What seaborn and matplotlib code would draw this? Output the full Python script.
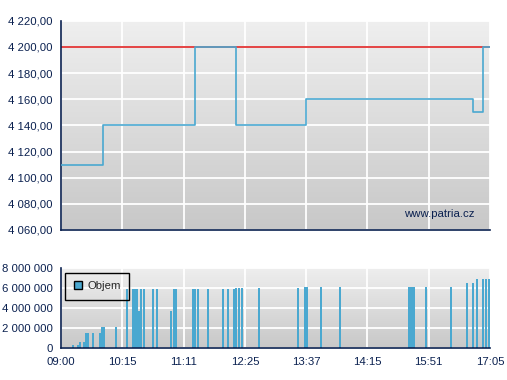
import numpy as np
import pandas as pd
import matplotlib
matplotlib.use("Agg")
import matplotlib.pyplot as plt
from matplotlib.ticker import FuncFormatter, FixedLocator
from matplotlib.patches import Patch
from matplotlib.colors import LinearSegmentedColormap
import seaborn as sns

# ---- data ----
tick_labels = ["09:00", "10:15", "11:11", "12:25", "13:37", "14:15", "15:51", "17:05"]
price_x = [0, 0.69, 2.18, 2.85, 3.99, 6.72, 6.88, 7.0]
price_y = [4110, 4140, 4200, 4140, 4160, 4150, 4200, 4200]
ref_x = [0, 7.0]
ref_y = [4200, 4200]
vol_x = [0.196, 0.278, 0.31, 0.376, 0.408, 0.433, 0.523, 0.637, 0.67, 0.703, 0.899,
         1.078, 1.176, 1.2, 1.242, 1.266, 1.307, 1.356, 1.503, 1.569, 1.797, 1.846, 1.879,
         2.157, 2.181, 2.239, 2.402, 2.647, 2.729, 2.827, 2.859, 2.908, 2.958, 3.235,
         3.873, 3.987, 4.011, 4.248, 4.559, 5.686, 5.719, 5.752, 5.948, 6.356,
         6.618, 6.716, 6.781, 6.879, 6.928, 6.99]
vol_y = [0.33, 0.33, 0.65, 0.65, 1.5, 1.5, 1.5, 1.5, 2.1, 2.1, 2.1,
         5.9, 5.9, 5.9, 5.9, 3.7, 5.9, 5.9, 5.9, 5.9, 3.7, 5.9, 5.9,
         5.9, 5.9, 5.9, 5.9, 5.9, 5.9, 5.9, 6.0, 6.0, 6.0, 6.0,
         6.0, 6.1, 6.1, 6.1, 6.1, 6.1, 6.1, 6.1, 6.1, 6.1,
         6.5, 6.5, 6.9, 6.9, 6.9, 6.9]
vol_y = [v * 1e6 for v in vol_y]

sns.set_style("whitegrid")
plt.rcParams['font.family'] = ['Liberation Sans', 'DejaVu Sans']

NAVY = "#0b2150"
BLUE = "#4aa8d0"
RED = "#e02424"

fig = plt.figure(figsize=(5.07, 3.80), dpi=100)
W, H = 507, 380
def axrect(l, t, r, b):
    return [l / W, 1 - b / H, (r - l) / W, (b - t) / H]

ax1 = fig.add_axes(axrect(61, 20.7, 490, 230))
ax2 = fig.add_axes(axrect(61, 268, 490, 348.3))

grad = np.linspace(0, 1, 256).reshape(-1, 1)
cmap = LinearSegmentedColormap.from_list("g", ["#efefef", "#c8c8c8"])

def style(ax, ylim):
    ax.imshow(grad, aspect="auto", cmap=cmap, extent=[0, 7, ylim[0], ylim[1]],
              origin="upper", zorder=0)
    ax.set_xlim(0, 7)
    ax.set_ylim(*ylim)
    ax.set_facecolor("#dddddd")
    ax.grid(True, color="white", linewidth=1.3)
    for s in ["top", "right"]:
        ax.spines[s].set_visible(False)
    for s in ["left", "bottom"]:
        ax.spines[s].set_color(NAVY)
        ax.spines[s].set_linewidth(1.2)
    ax.tick_params(axis="both", direction="out", length=4, width=1.2, color=NAVY,
                   labelcolor=NAVY, labelsize=8.2, pad=2)
    ax.xaxis.set_major_locator(FixedLocator(range(8)))

style(ax1, (4060, 4220))
style(ax2, (0, 8e6))

sns.lineplot(x=ref_x, y=ref_y, ax=ax1, color=RED, linewidth=1.2, zorder=2)
sns.lineplot(x=price_x, y=price_y, ax=ax1, color=BLUE, linewidth=1.2,
             drawstyle="steps-post", zorder=3)
ax1.set_yticks(np.arange(4060, 4221, 20))
ax1.yaxis.set_major_formatter(FuncFormatter(
    lambda v, p: f"{v:,.2f}".replace(",", " ").replace(".", ",")))
ax1.set_xticklabels([])
ax1.set_xlabel("")
ax1.set_ylabel("")
ax1.text(0.965, 0.075, "www.patria.cz", transform=ax1.transAxes, ha="right",
         va="center", color=NAVY, fontsize=8.2)

ax2.bar(vol_x, vol_y, width=0.033, color=BLUE, linewidth=0, zorder=2)
ax2.set_yticks(np.arange(0, 8e6 + 1, 2e6))
ax2.yaxis.set_major_formatter(FuncFormatter(
    lambda v, p: f"{v:,.0f}".replace(",", " ")))
ax2.set_xticklabels(tick_labels)
handle = Patch(facecolor=BLUE, edgecolor="black", linewidth=1)
leg = ax2.legend([handle], ["Objem"], loc="upper left",
                 bbox_to_anchor=(0.0093, 0.94), borderaxespad=0,
                 frameon=True, fancybox=False, framealpha=1,
                 fontsize=8.2, handlelength=0.7, handleheight=0.7, handletextpad=0.5,
                 borderpad=0.75)
frame = leg.get_frame()
frame.set_facecolor("none")
frame.set_edgecolor("black")
frame.set_linewidth(1)

fig.savefig("out.png", dpi=100)
